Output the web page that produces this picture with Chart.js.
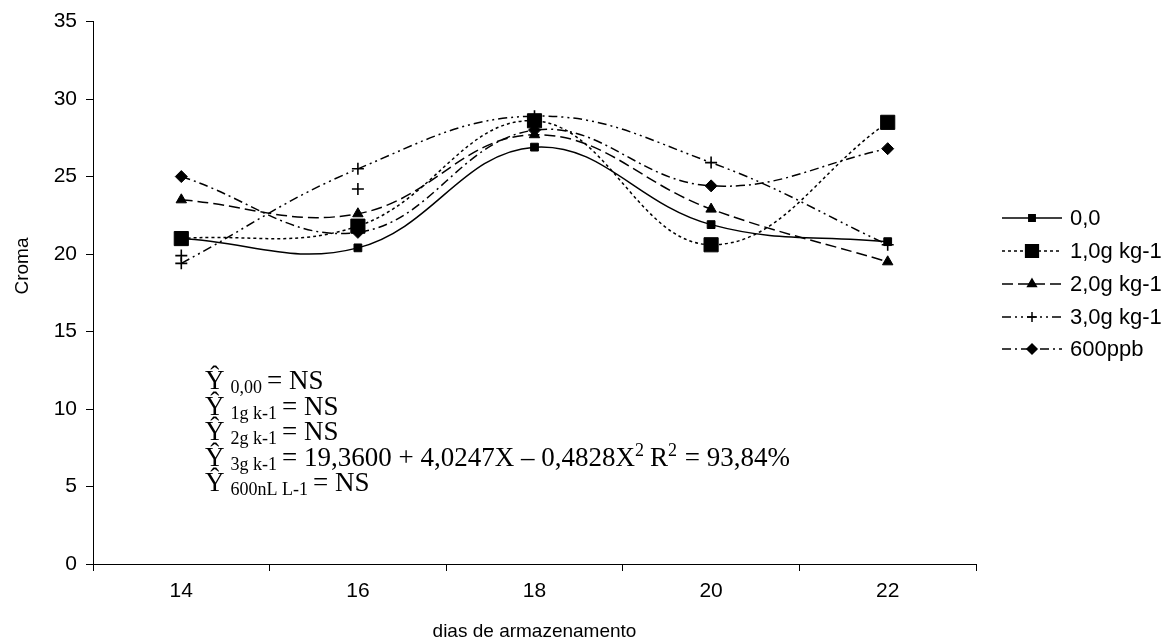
<!DOCTYPE html>
<html>
<head>
<meta charset="utf-8">
<script src="https://cdn.jsdelivr.net/npm/chart.js@4"></script>
<style>
  html, body { margin: 0; padding: 0; background: #ffffff; }
  #wrap { width: 1176px; height: 644px; position: relative; }
</style>
</head>
<body>
<div id="wrap"><canvas id="c" width="1176" height="644"></canvas></div>
<script>
// ---- data ----
const days = ['14', '16', '18', '20', '22'];
const seriesNames = ['0,0', '1,0g kg-1', '2,0g kg-1', '3,0g kg-1', '600ppb'];
const s00  = [21.0, 20.4, 26.9, 21.9, 20.8];
const s10  = [21.0, 21.8, 28.6, 20.6, 28.5];
const s20  = [23.5, 22.6, 27.7, 22.9, 19.5];
const s30  = [19.4, 25.5, 28.9, 25.9, 20.6];
const s30b = [19.9, 24.2, null, null, null];
const s600 = [25.0, 21.4, 28.0, 24.4, 26.8];
const yTicks = [0, 5, 10, 15, 20, 25, 30, 35];
const xTitle = 'dias de armazenamento';
const yTitle = 'Croma';
const equations = [
  { sub: '0,00', rest: '= NS' },
  { sub: '1g k-1', rest: '= NS' },
  { sub: '2g k-1', rest: '= NS' },
  { sub: '3g k-1', rest: '= 19,3600 + 4,0247X \u2013 0,4828X', sup2: true },
  { sub: '600nL L-1', rest: '= NS' }
];

const black = '#000000';
const sans = '"Liberation Sans", Arial, sans-serif';
const styles = [
  { dash: [],                 pointStyle: 'rect',     radius: 5.5 },
  { dash: [3, 3],             pointStyle: 'rect',     radius: 10 },
  { dash: [11, 5],            pointStyle: 'triangle', radius: 6 },
  { dash: [9, 4, 2, 4, 2, 4], pointStyle: 'cross',    radius: 6 },
  { dash: [9, 4, 2, 4],       pointStyle: 'rectRot',  radius: 6 }
];
const values = [s00, s10, s20, s30, s600];

const datasets = values.map((v, i) => ({
  label: seriesNames[i],
  data: v,
  borderColor: black,
  backgroundColor: black,
  borderWidth: 1.5,
  borderDash: styles[i].dash,
  pointStyle: styles[i].pointStyle,
  pointRadius: styles[i].radius,
  pointHoverRadius: styles[i].radius,
  pointBorderWidth: styles[i].pointStyle === 'cross' ? 1.6 : 1,
  pointBackgroundColor: black,
  pointBorderColor: black,
  tension: 0.4,
  fill: false
}));
datasets.push({
  label: '3,0g kg-1 extra',
  data: s30b,
  showLine: false,
  borderColor: black,
  backgroundColor: black,
  pointStyle: 'cross',
  pointRadius: 6,
  pointBorderWidth: 1.6,
  pointBorderColor: black
});

const overlay = {
  id: 'overlay',
  afterDraw(chart) {
    const ctx = chart.ctx;
    ctx.save();
    // y axis title
    ctx.save();
    ctx.translate(23, 266);
    ctx.rotate(-Math.PI / 2);
    ctx.fillStyle = black;
    ctx.font = '19px ' + sans;
    ctx.textAlign = 'center';
    ctx.textBaseline = 'middle';
    ctx.fillText(yTitle, 0, 0);
    ctx.restore();
    // legend
    const rowY = [218, 251, 284, 317, 349];
    const x0 = 1002, x1 = 1062, xm = 1032;
    for (let i = 0; i < 5; i++) {
      const y = rowY[i];
      ctx.strokeStyle = black;
      ctx.lineWidth = 1.5;
      ctx.setLineDash(styles[i].dash);
      ctx.beginPath();
      ctx.moveTo(x0, y); ctx.lineTo(x1, y); ctx.stroke();
      ctx.setLineDash([]);
      ctx.fillStyle = black;
      const r = i === 1 ? 9 : (i === 0 ? 4.5 : 5);
      Chart.helpers.drawPoint(ctx, { pointStyle: styles[i].pointStyle, radius: r, rotation: 0, borderWidth: 1.6 }, xm, y);
      if (styles[i].pointStyle !== 'cross') ctx.fill();
      ctx.fillStyle = black;
      ctx.font = '22px ' + sans;
      ctx.textBaseline = 'middle';
      ctx.textAlign = 'left';
      ctx.fillText(seriesNames[i], 1070, y + 1);
    }
    // equations
    const baseY = [389, 414.5, 440, 465.5, 491];
    const big = '27px "Liberation Serif", "Times New Roman", serif';
    const small = '18px "Liberation Serif", "Times New Roman", serif';
    ctx.textBaseline = 'alphabetic';
    for (let i = 0; i < equations.length; i++) {
      const e = equations[i];
      let x = 205;
      const y = baseY[i];
      ctx.font = big;
      ctx.fillText('\u0176', x, y);
      x += ctx.measureText('\u0176').width + 6;
      ctx.font = small;
      ctx.fillText(e.sub, x, y + 4);
      x += ctx.measureText(e.sub).width + 5;
      ctx.font = big;
      ctx.fillText(e.rest, x, y);
      x += ctx.measureText(e.rest).width;
      if (e.sup2) {
        ctx.font = small;
        ctx.fillText('2', x, y - 10);
        x += ctx.measureText('2').width + 6;
        ctx.font = big;
        ctx.fillText('R', x, y);
        x += ctx.measureText('R').width;
        ctx.font = small;
        ctx.fillText('2', x, y - 10);
        x += ctx.measureText('2').width + 1;
        ctx.font = big;
        ctx.fillText(' = 93,84%', x, y);
      }
    }
    ctx.restore();
  }
};

new Chart(document.getElementById('c'), {
  type: 'line',
  data: { labels: days, datasets },
  options: {
    responsive: false,
    animation: false,
    events: [],
    layout: { padding: { top: 21, right: 200, left: 0, bottom: 0 } },
    plugins: { legend: { display: false }, tooltip: { enabled: false } },
    scales: {
      x: {
        type: 'category',
        offset: true,
        grid: { display: true, drawOnChartArea: false, drawTicks: true, tickLength: 7, tickColor: black, offset: true, color: black },
        border: { display: true, color: black, width: 1 },
        ticks: { color: black, font: { family: sans, size: 21 }, padding: 8, maxRotation: 0 },
        title: { display: true, text: xTitle, color: black, font: { family: sans, size: 19 }, padding: { top: 0, bottom: 1 } },
        afterFit(scale) { scale.height = 80; }
      },
      y: {
        min: 0, max: 35,
        afterBuildTicks(scale) { scale.ticks = yTicks.map(v => ({ value: v })); },
        grid: { display: true, drawOnChartArea: false, drawTicks: true, tickLength: 7, tickColor: black, color: black },
        border: { display: true, color: black, width: 1 },
        ticks: { color: black, font: { family: sans, size: 21 }, padding: 9 },
        title: { display: false },
        afterFit(scale) { scale.width = 93; }
      }
    }
  },
  plugins: [overlay]
});
</script>
</body>
</html>
